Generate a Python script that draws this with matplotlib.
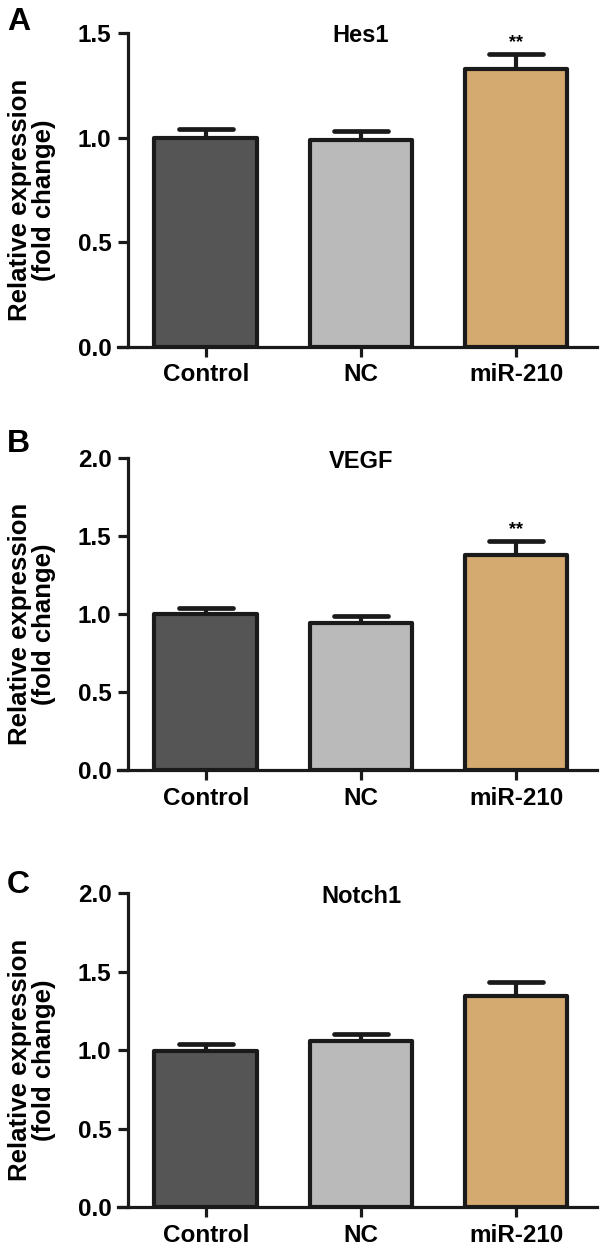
import matplotlib
matplotlib.use("Agg")
import matplotlib.pyplot as plt
import numpy as np

plt.rcParams.update({
    "font.family": ["Liberation Sans", "DejaVu Sans"],
    "font.weight": "bold",
    "axes.labelweight": "bold",
})

# data
groups = ["Control", "NC", "miR-210"]
panel_letters = ["A", "B", "C"]
genes = ["Hes1", "VEGF", "Notch1"]
hes1_mean = [1.00, 0.99, 1.33]
hes1_err = [0.04, 0.04, 0.07]
vegf_mean = [1.00, 0.945, 1.38]
vegf_err = [0.04, 0.04, 0.09]
notch1_mean = [0.995, 1.055, 1.345]
notch1_err = [0.045, 0.05, 0.09]
y_tops = [1.5, 2.0, 2.0]
signif = [["", "", "**"], ["", "", "**"], ["", "", ""]]

means = [hes1_mean, vegf_mean, notch1_mean]
errs = [hes1_err, vegf_err, notch1_err]

bar_colors = ["#555555", "#bababa", "#d4aa70"]
edge = "#1a1a1a"

fig = plt.figure(figsize=(6.02, 12.49), dpi=100)

# axes rectangles in figure fraction
ax_left = 118 / 602
ax_width = 479 / 602
bottoms = [0.7224, 0.3835, 0.0336]
heights = [0.2512, 0.2498, 0.2514]
letter_y = [0.976, 0.638, 0.285]

x = np.arange(len(groups))

for i in range(3):
    ax = fig.add_axes([ax_left, bottoms[i], ax_width, heights[i]])
    m = np.array(means[i])
    e = np.array(errs[i])

    # one-sided error bars (upwards only)
    ax.vlines(x, m, m + e, color=edge, linewidth=3, zorder=1)
    caps = ax.hlines(m + e, x - 0.175, x + 0.175, color=edge, linewidth=3.4, zorder=1)
    caps.set_capstyle("round")

    bars = ax.bar(x, m, width=0.66, color=bar_colors, edgecolor=edge,
                  linewidth=3, zorder=2)
    for b in bars:
        b.set_joinstyle("round")

    for j in range(len(groups)):
        if signif[i][j]:
            ax.annotate(signif[i][j], (x[j], m[j] + e[j]), xytext=(0, 11),
                        textcoords="offset pixels", ha="center", va="center",
                        fontsize=13, fontweight="bold", annotation_clip=False)

    ax.set_xlim(-0.565, 2.52)
    ax.set_ylim(0, y_tops[i])
    ticks = np.arange(0, y_tops[i] + 0.01, 0.5)
    ax.set_yticks(ticks)
    ax.set_yticklabels([f"{v:.1f}" for v in ticks])
    ax.set_xticks(x)
    ax.set_xticklabels(groups)

    ax.spines["top"].set_visible(False)
    ax.spines["right"].set_visible(False)
    ax.spines["left"].set_position(("data", -0.5))
    for s in ["left", "bottom"]:
        ax.spines[s].set_linewidth(2.3)
        ax.spines[s].set_color(edge)
    ax.tick_params(axis="both", length=7, width=2.3, color=edge,
                   labelsize=17.5, pad=5)

    ax.set_ylabel("Relative expression\n(fold change)", fontsize=18.5,
                  fontweight="bold", linespacing=1.0)
    ax.yaxis.set_label_coords(-0.13, 0.468)

    ax.annotate(genes[i], (1, y_tops[i]), xytext=(0, -3),
                textcoords="offset pixels", ha="center", va="center",
                fontsize=17, fontweight="bold", annotation_clip=False)

    fig.text(7 / 602, letter_y[i], panel_letters[i], fontsize=23,
             fontweight="bold", ha="left", va="baseline")

fig.savefig("out.png", dpi=100)
